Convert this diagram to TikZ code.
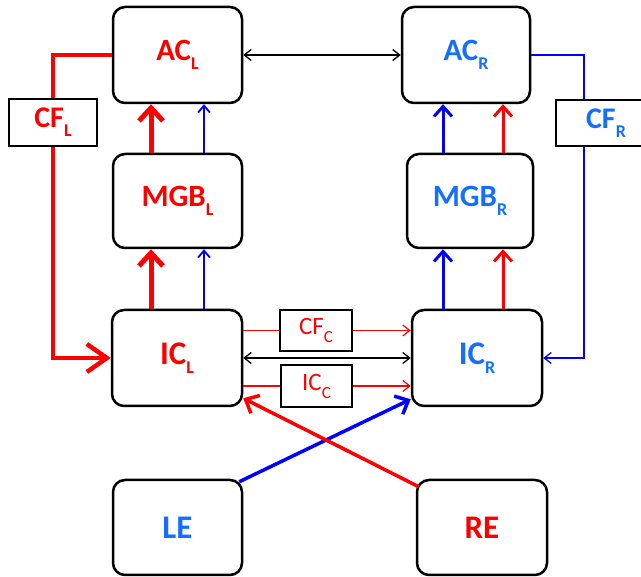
\documentclass[tikz,border=0pt]{standalone}
\usepackage{fontspec}
\setmainfont{Carlito}
\usetikzlibrary{arrows.meta}
\definecolor{myred}{RGB}{255,0,0}
\definecolor{txtblue}{RGB}{20,110,255}
\definecolor{lnblue}{RGB}{0,0,255}
\newcommand\lsub[1]{\raisebox{-9pt}{\fontsize{18}{18}\selectfont #1}}
\newcommand\ssub[1]{\raisebox{-8pt}{\fontsize{17}{17}\selectfont #1}}
\begin{document}
\begin{tikzpicture}[x=1pt,y=-1pt,
  box/.style={draw, line width=2.5pt, rounded corners=12pt, inner sep=0pt,
    font=\fontsize{31}{31}\selectfont\bfseries},
  bigbox/.style={box, font=\fontsize{33}{33}\selectfont\bfseries},
  sqbox/.style={draw, line width=2.3pt, inner sep=0pt,
    font=\fontsize{30}{30}\selectfont\bfseries},
  smbox/.style={draw, line width=2.3pt, inner sep=0pt,
    font=\fontsize{25}{25}\selectfont},
  rthick/.style={draw=myred, line width=5pt, -{Straight Barb[length=13pt,width=24pt]}},
  bthinL/.style={draw=lnblue, line width=1.8pt, -{Straight Barb[length=7pt,width=12pt]}},
  bmed/.style={draw=lnblue, line width=3pt, -{Straight Barb[length=10pt,width=18pt]}},
  rmed/.style={draw=myred, line width=3pt, -{Straight Barb[length=10pt,width=18pt]}},
  cfl/.style={draw=myred, line width=4.5pt, line join=miter},
  cfr/.style={draw=lnblue, line width=1.3pt},
  rthin/.style={draw=myred, line width=1.2pt},
  kthin/.style={draw=black, line width=1.3pt},
  thinhead/.style={-{Straight Barb[length=7pt,width=11pt]}},
  cross/.style={line width=3.5pt, -{Straight Barb[length=11pt,width=20pt]}}
]
\useasboundingbox (0,0) rectangle (641,577);

% main boxes
\node[box, minimum width=129pt, minimum height=96pt, text=myred] (ACL) at (177.5,55) {AC\lsub{L}};
\node[box, minimum width=128pt, minimum height=96pt, text=txtblue] (ACR) at (466,55) {AC\lsub{R}};
\node[box, minimum width=129pt, minimum height=94pt, text=myred] (MGBL) at (177.5,201) {MGB\lsub{L}};
\node[box, minimum width=126pt, minimum height=94pt, text=txtblue] (MGBR) at (470,201) {MGB\lsub{R}};
\node[bigbox, minimum width=130pt, minimum height=96pt, text=myred] (ICL) at (177,358) {IC\lsub{L}};
\node[bigbox, minimum width=130pt, minimum height=96pt, text=txtblue] (ICR) at (477,358) {IC\lsub{R}};
\node[bigbox, minimum width=129pt, minimum height=95pt, text=txtblue] (LE) at (177.5,527.5) {LE};
\node[bigbox, minimum width=130pt, minimum height=95pt, text=myred] (RE) at (482,527.5) {RE};

% small boxes
\node[sqbox, minimum width=88pt, minimum height=47pt, text=myred] (CFL) at (53,122.5) {CF\lsub{L}};
\node[sqbox, minimum width=100pt, minimum height=46pt, text=txtblue] (CFR) at (606,123) {CF\lsub{R}};
\node[smbox, minimum width=72pt, minimum height=41pt, text=myred] (CFC) at (316,330.5) {CF\ssub{C}};
\node[smbox, minimum width=71pt, minimum height=42pt, text=myred] (ICC) at (316.5,386) {IC\ssub{C}};

% column coordinates
\coordinate (xl1) at (151,0);
\coordinate (xl2) at (204,0);
\coordinate (xr1) at (443,0);
\coordinate (xr2) at (503,0);
\coordinate (xcf) at (584,0);

% AC <-> AC
\draw[kthin, {Straight Barb[length=7pt,width=11pt]}-{Straight Barb[length=7pt,width=11pt]}] (ACL.east) -- (ACR.west);

% left column
\draw[rthick] (xl1 |- MGBL.north) -- (xl1 |- ACL.south);
\draw[bthinL] (xl2 |- MGBL.north) -- (xl2 |- ACL.south);
\draw[rthick] (xl1 |- ICL.north) -- (xl1 |- MGBL.south);
\draw[bthinL] (xl2 |- ICL.north) -- (xl2 |- MGBL.south);

% right column
\draw[bmed] (xr1 |- MGBR.north) -- (xr1 |- ACR.south);
\draw[rmed] (xr2 |- MGBR.north) -- (xr2 |- ACR.south);
\draw[bmed] (xr1 |- ICR.north) -- (xr1 |- MGBR.south);
\draw[rmed] (xr2 |- ICR.north) -- (xr2 |- MGBR.south);

% CF_L loop
\draw[cfl] (ACL.west) -- (CFL.north |- ACL.west) -- (CFL.north);
\draw[cfl, -{Straight Barb[length=20pt,width=28pt]}] (CFL.south) -- (CFL.south |- ICL.west) -- (ICL.west);

% CF_R loop
\draw[cfr] (ACR.east) -- (xcf |- ACR.east) -- (xcf |- CFR.north);
\draw[cfr, thinhead] (xcf |- CFR.south) -- (xcf |- ICR.east) -- (ICR.east);

% commissural connections
\draw[rthin] (CFC.west -| ICL.east) -- (CFC.west);
\draw[rthin, thinhead] (CFC.east) -- (CFC.east -| ICR.west);
\draw[kthin, {Straight Barb[length=7pt,width=11pt]}-{Straight Barb[length=7pt,width=11pt]}] (ICL.east) -- (ICR.west);
\draw[rthin] (ICC.west -| ICL.east) -- (ICC.west);
\draw[rthin, thinhead] (ICC.east) -- (ICC.east -| ICR.west);

% crossing eye inputs
\draw[cross, draw=lnblue] ([xshift=-4pt,yshift=-3pt]LE.north east) -- ([yshift=8pt]ICR.south west);
\draw[cross, draw=myred] ([xshift=3pt,yshift=-8pt]RE.north west) -- ([yshift=9pt]ICL.south east);
\end{tikzpicture}
\end{document}
